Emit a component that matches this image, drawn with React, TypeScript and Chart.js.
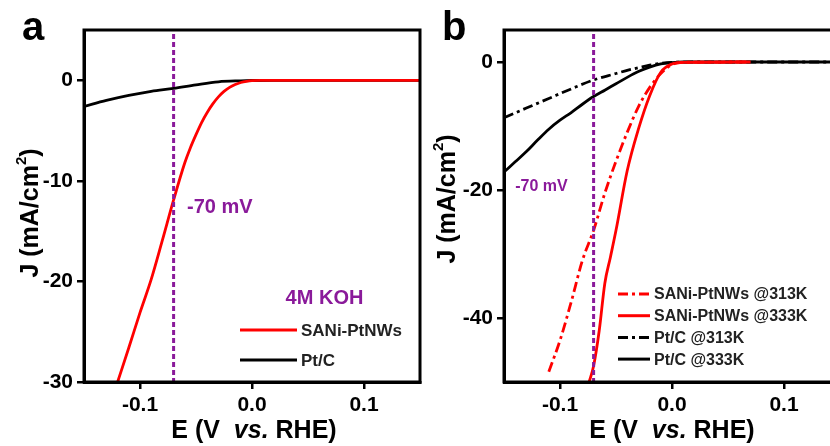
import React, { useEffect, useRef } from 'react';
import { Chart, registerables } from 'chart.js';

Chart.register(...registerables);

const FONT = '"Liberation Sans", Arial, sans-serif';
const PURPLE = '#8a1a9a';

const E_MIN = -0.15;
const E_MAX = 0.15;
const X_TICKS = [-0.1, 0.0, 0.1];
const A_Y_TICKS = [0, -10, -20, -30];
const B_Y_TICKS = [0, -20, -40];
const MARKER_E = -0.07;

// Panel a (4M KOH)
const A_SANI_E = [-0.12, -0.11, -0.1, -0.09, -0.08, -0.07, -0.06, -0.055, -0.05, -0.045, -0.04, -0.035, -0.03, -0.025, -0.02, -0.015, -0.01, -0.005, 0.0, 0.01, 0.02, 0.15];
const A_SANI_J = [-30, -26.6, -23.1, -19.8, -15.9, -11.9, -8.2, -6.7, -5.4, -4.2, -3.2, -2.35, -1.65, -1.1, -0.7, -0.42, -0.22, -0.1, -0.04, -0.01, 0, 0];
const A_PTC_E = [-0.15, -0.13, -0.11, -0.09, -0.07, -0.05, -0.03, -0.01, 0.0, 0.02, 0.15];
const A_PTC_J = [-2.6, -2.0, -1.5, -1.1, -0.8, -0.45, -0.15, -0.05, -0.02, 0, 0];

// Panel b (temperatures)
const B_SANI313_E = [-0.11, -0.1, -0.09, -0.08, -0.07, -0.06, -0.05, -0.04, -0.03, -0.02, -0.01, 0.0, 0.01, 0.07];
const B_SANI313_J = [-48.4, -43.5, -37.5, -31.0, -26.3, -20.5, -15.5, -11.0, -7.0, -4.0, -1.8, -0.4, -0.05, 0];
const B_SANI333_E = [-0.074, -0.07, -0.065, -0.06, -0.055, -0.05, -0.04, -0.03, -0.02, -0.01, 0.0, 0.01, 0.07];
const B_SANI333_J = [-50, -47.5, -42, -34.6, -30.5, -26.3, -17.0, -10.5, -5.3, -1.6, -0.3, -0.05, 0];
const B_PTC313_E = [-0.15, -0.13, -0.11, -0.09, -0.07, -0.05, -0.04, -0.03, -0.02, -0.01, 0.0, 0.02, 0.15];
const B_PTC313_J = [-8.7, -7.2, -5.7, -4.2, -2.8, -1.8, -1.3, -0.9, -0.5, -0.2, -0.05, 0, 0];
const B_PTC333_E = [-0.15, -0.14, -0.13, -0.12, -0.11, -0.1, -0.09, -0.08, -0.07, -0.06, -0.05, -0.04, -0.03, -0.02, -0.01, 0.0, 0.01, 0.15];
const B_PTC333_J = [-17.2, -15.6, -14.0, -12.2, -10.5, -9.1, -7.9, -6.6, -5.4, -4.4, -3.4, -2.4, -1.5, -0.8, -0.3, -0.1, 0, 0];

const DASH_DOT = [10, 4, 3, 4];

function pts(xs: number[], ys: number[]) {
  return xs.map((x, i) => ({ x, y: ys[i] }));
}

function ds(label: string, xs: number[], ys: number[], color: string, dash: number[]) {
  return {
    label,
    data: pts(xs, ys),
    borderColor: color,
    backgroundColor: color,
    borderWidth: 2.8,
    borderDash: dash,
    pointRadius: 0,
    fill: false,
    cubicInterpolationMode: 'monotone' as const,
  };
}

type Decor = {
  letter: string;
  letterX: number;
  yTitleX: number;
  yTitleY: number;
  xTitleX: number;
  notes: { text: string; e: number; j: number; size: number }[];
  legendX: number;
  legendY: number;
  legendGap: number;
  legendFont: number;
  lineLen: number;
};

function drawYTitle(ctx: CanvasRenderingContext2D, cx: number, cy: number) {
  const size = 25;
  const main = `bold ${size}px ${FONT}`;
  const sup = `bold ${Math.round(size * 0.6)}px ${FONT}`;
  ctx.save();
  ctx.translate(cx, cy);
  ctx.rotate(-Math.PI / 2);
  ctx.fillStyle = '#000';
  ctx.textBaseline = 'middle';
  ctx.textAlign = 'left';
  ctx.font = main;
  const p1 = 'J (mA/cm';
  const w1 = ctx.measureText(p1).width;
  const p3 = ')';
  const w3 = ctx.measureText(p3).width;
  ctx.font = sup;
  const w2 = ctx.measureText('2').width;
  const total = w1 + w2 + w3;
  let x = -total / 2;
  ctx.font = main;
  ctx.fillText(p1, x, 0);
  x += w1;
  ctx.font = sup;
  ctx.fillText('2', x, -size * 0.38);
  x += w2;
  ctx.font = main;
  ctx.fillText(p3, x, 0);
  ctx.restore();
}

function drawXTitle(ctx: CanvasRenderingContext2D, cx: number, cy: number) {
  const size = 25;
  const parts = [
    { t: 'E (V  ', f: `bold ${size}px ${FONT}` },
    { t: 'vs.', f: `italic bold ${size}px ${FONT}` },
    { t: ' RHE)', f: `bold ${size}px ${FONT}` },
  ];
  ctx.save();
  ctx.fillStyle = '#000';
  ctx.textBaseline = 'middle';
  ctx.textAlign = 'left';
  let total = 0;
  const ws = parts.map((p) => {
    ctx.font = p.f;
    const w = ctx.measureText(p.t).width;
    total += w;
    return w;
  });
  let x = cx - total / 2;
  parts.forEach((p, i) => {
    ctx.font = p.f;
    ctx.fillText(p.t, x, cy);
    x += ws[i];
  });
  ctx.restore();
}

function makeDecor(d: Decor) {
  return {
    id: 'decor',
    afterDraw(chart: any) {
      const ctx: CanvasRenderingContext2D = chart.ctx;
      const { left, right, top, bottom } = chart.chartArea;
      const xs = chart.scales.x;
      const ys = chart.scales.y;
      ctx.save();
      // marker line
      const mx = xs.getPixelForValue(MARKER_E);
      ctx.strokeStyle = PURPLE;
      ctx.lineWidth = 3;
      ctx.setLineDash([5, 3]);
      ctx.beginPath();
      ctx.moveTo(mx, top + 4);
      ctx.lineTo(mx, bottom);
      ctx.stroke();
      ctx.setLineDash([]);
      // box
      ctx.strokeStyle = '#000';
      ctx.lineWidth = 3;
      ctx.strokeRect(left, top, right - left, bottom - top);
      // letter
      ctx.fillStyle = '#000';
      ctx.font = `bold 40px ${FONT}`;
      ctx.textAlign = 'left';
      ctx.textBaseline = 'alphabetic';
      ctx.fillText(d.letter, d.letterX, 40);
      // notes
      ctx.fillStyle = PURPLE;
      ctx.textBaseline = 'middle';
      d.notes.forEach((n) => {
        ctx.font = `bold ${n.size}px ${FONT}`;
        ctx.fillText(n.text, xs.getPixelForValue(n.e), ys.getPixelForValue(n.j));
      });
      // legend
      chart.data.datasets.forEach((dset: any, i: number) => {
        const y = d.legendY + i * d.legendGap;
        ctx.strokeStyle = dset.borderColor;
        ctx.lineWidth = 3;
        ctx.setLineDash(dset.borderDash || []);
        ctx.beginPath();
        ctx.moveTo(d.legendX, y);
        ctx.lineTo(d.legendX + d.lineLen, y);
        ctx.stroke();
        ctx.setLineDash([]);
        ctx.fillStyle = '#222';
        ctx.font = `bold ${d.legendFont}px ${FONT}`;
        ctx.textBaseline = 'middle';
        ctx.fillText(dset.label, d.legendX + d.lineLen + 4, y + 1);
      });
      ctx.restore();
      drawYTitle(ctx, d.yTitleX, d.yTitleY);
      drawXTitle(ctx, d.xTitleX, 431);
    },
  };
}

function makeConfig(datasets: any[], yMin: number, yTicks: number[], decor: Decor): any {
  const tickFont = { family: FONT, size: 21, weight: 'bold' as const };
  return {
    type: 'line',
    data: { datasets },
    options: {
      animation: false,
      responsive: false,
      maintainAspectRatio: false,
      layout: { padding: { left: 0, right: 10, top: 30, bottom: 0 } },
      plugins: { legend: { display: false }, tooltip: { enabled: false } },
      scales: {
        x: {
          type: 'linear',
          min: E_MIN,
          max: E_MAX,
          afterBuildTicks: (s: any) => {
            s.ticks = X_TICKS.map((v) => ({ value: v }));
          },
          afterFit: (s: any) => {
            s.height = 64;
          },
          ticks: {
            font: tickFont,
            color: '#000',
            padding: 4,
            maxRotation: 0,
            callback: (v: any) => Number(v).toFixed(1),
          },
          grid: { drawOnChartArea: false, drawTicks: true, tickLength: 7, color: '#000', lineWidth: 2.5 },
          border: { display: true, color: '#000', width: 3 },
        },
        y: {
          type: 'linear',
          min: yMin,
          max: 5,
          afterBuildTicks: (s: any) => {
            s.ticks = yTicks.map((v) => ({ value: v }));
          },
          afterFit: (s: any) => {
            s.width = 84;
          },
          ticks: { font: tickFont, color: '#000', padding: 4, callback: (v: any) => String(v) },
          grid: { drawOnChartArea: false, drawTicks: true, tickLength: 7, color: '#000', lineWidth: 2.5 },
          border: { display: true, color: '#000', width: 3 },
        },
      },
    },
    plugins: [makeDecor(decor)],
  };
}

function Panel(props: { config: any; left: number }) {
  const ref = useRef<HTMLCanvasElement | null>(null);
  useEffect(() => {
    if (!ref.current) return;
    const c = new Chart(ref.current, props.config);
    return () => c.destroy();
  }, []);
  return (
    <canvas
      ref={ref}
      width={430}
      height={446}
      style={{ position: 'absolute', left: props.left, top: 0, width: 430, height: 446 }}
    />
  );
}

export default function App() {
  const configA = makeConfig(
    [
      ds('SANi-PtNWs', A_SANI_E, A_SANI_J, '#ff0000', []),
      ds('Pt/C', A_PTC_E, A_PTC_J, '#000000', []),
    ],
    -30,
    A_Y_TICKS,
    {
      letter: 'a',
      letterX: 22,
      yTitleX: 31,
      yTitleY: 213,
      xTitleX: 254,
      notes: [
        { text: '-70 mV', e: -0.058, j: -12.6, size: 20 },
        { text: '4M KOH', e: 0.03, j: -21.7, size: 20 },
      ],
      legendX: 240,
      legendY: 330,
      legendGap: 30,
      legendFont: 17,
      lineLen: 57,
    }
  );
  const configB = makeConfig(
    [
      ds('SANi-PtNWs @313K', B_SANI313_E, B_SANI313_J, '#ff0000', DASH_DOT),
      ds('SANi-PtNWs @333K', B_SANI333_E, B_SANI333_J, '#ff0000', []),
      ds('Pt/C @313K', B_PTC313_E, B_PTC313_J, '#000000', DASH_DOT),
      ds('Pt/C @333K', B_PTC333_E, B_PTC333_J, '#000000', []),
    ],
    -50,
    B_Y_TICKS,
    {
      letter: 'b',
      letterX: 22,
      yTitleX: 28,
      yTitleY: 199,
      xTitleX: 252,
      notes: [{ text: '-70 mV', e: -0.14, j: -19.5, size: 16 }],
      legendX: 198,
      legendY: 294,
      legendGap: 21.7,
      legendFont: 16,
      lineLen: 32,
    }
  );
  return (
    <div style={{ position: 'absolute', left: 0, top: 0, width: 830, height: 446, overflow: 'hidden', background: '#fff' }}>
      <Panel config={configA} left={0} />
      <Panel config={configB} left={420} />
    </div>
  );
}
